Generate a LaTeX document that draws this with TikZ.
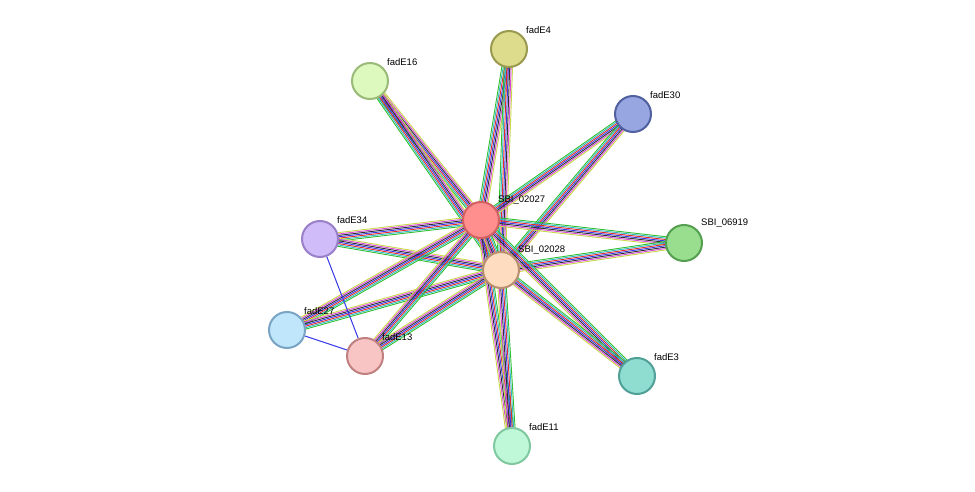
\documentclass[tikz,border=0pt]{standalone}
\usepackage{fontspec}
\setmainfont{Liberation Sans}
\usetikzlibrary{calc,backgrounds}
\definecolor{ctext}{HTML}{C8D848}
\definecolor{cexp}{HTML}{D848D8}
\definecolor{ccoex}{HTML}{303030}
\definecolor{ccooc}{HTML}{3838E8}
\definecolor{cfus}{HTML}{E82828}
\definecolor{cnei}{HTML}{30C030}
\definecolor{cdb}{HTML}{30B8C8}
\tikzset{
  prot/.style 2 args={circle, minimum size=36pt, inner sep=0pt, line width=2pt,
    fill={rgb,255:#1}, draw={rgb,255:#2}},
  lab/.style={font=\fontsize{9.5}{10}\selectfont, anchor=south west, inner sep=1pt},
  single/.style={line width=1pt, ccooc}
}
% bundle of parallel evidence lines between two nodes
\newcommand{\bundle}[2]{%
  \foreach \o/\c in {-4.2/ctext,-2.8/cexp,-1.4/ccoex,0/ccooc,1.4/cfus,2.8/cdb,4.2/cnei}
    \draw[\c, line width=0.9pt] ($(#1)!\o pt!90:(#2)$) -- ($(#2)!\o pt!-90:(#1)$);
}
\begin{document}
\begin{tikzpicture}[x=1pt, y=-1pt]
  \useasboundingbox (0,0) rectangle (975,492);
  \node[prot={red,255;green,143;blue,143}{red,212;green,96;blue,96}] (s27) at (481,220) {};
  \node[prot={red,253;green,220;blue,191}{red,184;green,144;blue,112}] (s28) at (501,270) {};
  \node[prot={red,220;green,220;blue,140}{red,154;green,154;blue,80}] (e4) at (509,49) {};
  \node[prot={red,221;green,249;blue,190}{red,153;green,187;blue,119}] (e16) at (370,81) {};
  \node[prot={red,151;green,165;blue,224}{red,80;green,96;blue,160}] (e30) at (633,114) {};
  \node[prot={red,153;green,221;blue,143}{red,85;green,160;blue,80}] (s19) at (684,243) {};
  \node[prot={red,207;green,188;blue,248}{red,154;green,128;blue,200}] (e34) at (320,239) {};
  \node[prot={red,191;green,230;blue,250}{red,122;green,164;blue,196}] (e27) at (287,330) {};
  \node[prot={red,248;green,196;blue,196}{red,192;green,128;blue,128}] (e13) at (365,356) {};
  \node[prot={red,143;green,220;blue,208}{red,80;green,160;blue,152}] (e3) at (637,376) {};
  \node[prot={red,191;green,248;blue,216}{red,128;green,200;blue,160}] (e11) at (512,446) {};

  \begin{scope}[on background layer]
    \foreach \n in {e4,e16,e30,s19,e34,e27,e13,e3,e11} {
      \bundle{s27}{\n}
      \bundle{s28}{\n}
    }
    \bundle{s27}{s28}
    \draw[single] (e34) -- (e13);
    \draw[single] (e27) -- (e13);
  \end{scope}

  \node[lab] at ($(s27)+(16,-14)$) {SBI\_02027};
  \node[lab] at ($(s28)+(16,-14)$) {SBI\_02028};
  \node[lab] at ($(e4)+(16,-14)$) {fadE4};
  \node[lab] at ($(e16)+(16,-14)$) {fadE16};
  \node[lab] at ($(e30)+(16,-14)$) {fadE30};
  \node[lab] at ($(s19)+(16,-14)$) {SBI\_06919};
  \node[lab] at ($(e34)+(16,-14)$) {fadE34};
  \node[lab] at ($(e27)+(16,-14)$) {fadE27};
  \node[lab] at ($(e13)+(16,-14)$) {fadE13};
  \node[lab] at ($(e3)+(16,-14)$) {fadE3};
  \node[lab] at ($(e11)+(16,-14)$) {fadE11};
\end{tikzpicture}
\end{document}
